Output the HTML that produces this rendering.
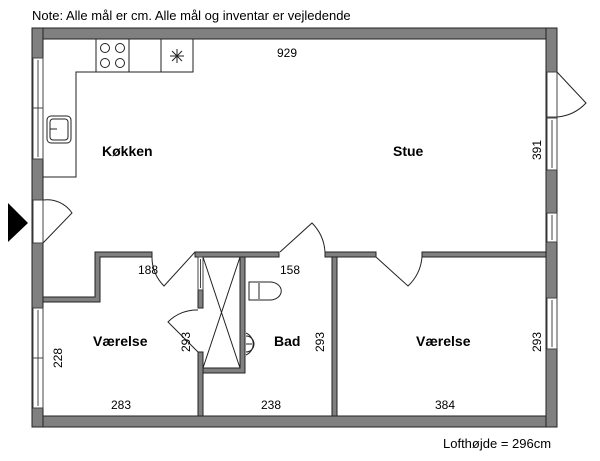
<!DOCTYPE html>
<html><head><meta charset="utf-8"><style>
body{margin:0;background:#fff;}
svg{display:block;font-family:"Liberation Sans",sans-serif;}
.t{font-size:12px;fill:#000;}
.b{font-size:14px;font-weight:bold;fill:#000;}
</style></head><body>
<svg width="600" height="461" viewBox="0 0 600 461" xmlns="http://www.w3.org/2000/svg">
<text x="32" y="20" style="font-size:13px">Note: Alle mål er cm. Alle mål og inventar er vejledende</text>
<g fill="#808080" stroke="#222" stroke-width="1">
<rect x="32" y="28" width="525" height="11"/>
<rect x="32" y="416" width="525" height="11"/>
<rect x="32" y="28" width="11" height="399"/>
<rect x="546" y="28" width="11" height="399"/>
<path d="M95 252 H152 V257 H100 V302 H43 V297 H95 Z"/>
<rect x="195" y="252" width="84" height="5"/>
<rect x="325" y="252" width="51" height="5"/>
<rect x="422" y="252" width="124" height="5"/>
<rect x="332" y="257" width="5" height="159"/>
<rect x="198" y="290" width="5" height="18"/>
<rect x="198" y="352" width="5" height="64"/>
<path d="M240 257 H245 V373 H203 V368 H240 Z"/>
</g>
<g fill="#fff" stroke="#444" stroke-width="1">
<rect x="33" y="58" width="10" height="101"/>
<line x1="38" y1="60" x2="38" y2="157"/><line x1="33" y1="108" x2="43" y2="108"/>
<rect x="33" y="200" width="10" height="43"/>
<rect x="33" y="308" width="10" height="100"/>
<line x1="38" y1="310" x2="38" y2="406"/><line x1="33" y1="358" x2="43" y2="358"/>
<rect x="547" y="72" width="10" height="45"/>
<rect x="547" y="118" width="10" height="52"/><line x1="552" y1="120" x2="552" y2="168"/>
<rect x="547" y="213" width="10" height="29"/><line x1="552" y1="215" x2="552" y2="240"/>
<rect x="547" y="298" width="10" height="51"/><line x1="552" y1="300" x2="552" y2="347"/>
<rect x="198" y="257" width="5" height="33"/><line x1="200.5" y1="259" x2="200.5" y2="288"/>
</g>
<g fill="none" stroke="#222" stroke-width="1">
<path d="M43 243 L72 213 A30 30 0 0 0 43 200"/>
<path d="M557 72 L586 103 A45 45 0 0 1 557 117"/>
<path d="M195 252 L164 286 A40 40 0 0 1 152 257"/>
<path d="M198 352 L168 322 A40 40 0 0 1 198 310"/>
<path d="M280 252 L312 223 A45 45 0 0 1 325 252"/>
<path d="M376 257 L408 286 A45 45 0 0 0 422 257"/>
<path d="M96 39 V72 H193 V39"/>
<path d="M96 72 H76 V177 H43"/>
<line x1="129" y1="39" x2="129" y2="72"/><line x1="161" y1="39" x2="161" y2="72"/>
<circle cx="105" cy="48" r="4.5"/><circle cx="120" cy="48" r="4.5"/>
<circle cx="105" cy="63" r="4.5"/><circle cx="120" cy="63" r="4.5"/>
<path d="M170 56 H184 M177 49 V63 M172 51 L182 61 M182 51 L172 61"/>
<rect x="47" y="116" width="24" height="27" rx="4"/>
<rect x="50" y="119" width="18" height="21" rx="3"/>
<line x1="50" y1="129" x2="57" y2="129"/>
<path d="M203 257 L240 368 M240 257 L203 368"/>
<path d="M249 282 H270 A10 8 0 0 1 270 300 H249 Z"/>
<line x1="259" y1="283" x2="259" y2="299"/>
<path d="M246 333 A12 12 0 0 1 246 355"/>
<path d="M246 336 A8 8 0 0 1 246 352"/>
<line x1="246" y1="344" x2="252" y2="344"/>
</g>
<polygon points="8,203 28,223 8,242" fill="#000"/>
<text class="b" x="102" y="156">Køkken</text>
<text class="b" x="393" y="156">Stue</text>
<text class="b" x="93" y="346">Værelse</text>
<text class="b" x="274" y="346">Bad</text>
<text class="b" x="416" y="346">Værelse</text>
<text class="t" x="277" y="57">929</text>
<text class="t" x="138" y="274">188</text>
<text class="t" x="280" y="274">158</text>
<text class="t" x="111" y="409">283</text>
<text class="t" x="261" y="409">238</text>
<text class="t" x="435" y="409">384</text>
<g class="t">
<text transform="translate(541,160) rotate(-90)">391</text>
<text transform="translate(541,352) rotate(-90)">293</text>
<text transform="translate(324,352) rotate(-90)">293</text>
<text transform="translate(190,352) rotate(-90)">293</text>
<text transform="translate(62,368) rotate(-90)">228</text>
</g>
<text x="443" y="448" style="font-size:13px">Lofthøjde = 296cm</text>
</svg>
</body></html>
